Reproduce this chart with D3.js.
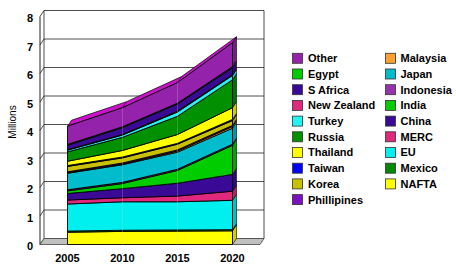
<!DOCTYPE html>
<html><head><meta charset="utf-8">
<script src="https://cdn.jsdelivr.net/npm/d3@7"></script>
<style>body{margin:0;background:#fff}svg{display:block}</style>
</head><body>
<script>
// ---- data ----
const years = ["2005", "2010", "2015", "2020"];
const yTicks = [0, 1, 2, 3, 4, 5, 6, 7, 8];
// series, bottom of stack first (values in millions)
const NAFTA       = [0.43, 0.46, 0.47, 0.48];
const Mexico      = [0.04, 0.04, 0.04, 0.04];
const EU          = [0.95, 1.00, 0.99, 1.03];
const MERC        = [0.14, 0.14, 0.20, 0.32];
const China       = [0.23, 0.32, 0.45, 0.59];
const India       = [0.09, 0.18, 0.45, 1.02];
const Indonesia   = [0.04, 0.04, 0.04, 0.04];
const Japan       = [0.58, 0.62, 0.60, 0.56];
const Malaysia    = [0.02, 0.02, 0.04, 0.06];
const Phillipines = [0.03, 0.04, 0.04, 0.04];
const Korea       = [0.19, 0.18, 0.20, 0.17];
const Taiwan      = [0.03, 0.03, 0.03, 0.04];
const Thailand    = [0.15, 0.23, 0.31, 0.41];
const Russia      = [0.33, 0.46, 0.64, 0.98];
const Turkey      = [0.06, 0.08, 0.15, 0.15];
const NewZealand  = [0.02, 0.02, 0.03, 0.03];
const SAfrica     = [0.15, 0.24, 0.25, 0.24];
const Egypt       = [0.03, 0.03, 0.03, 0.04];
const Other       = [0.64, 0.67, 0.72, 0.84];

const seriesNames = ["NAFTA","Mexico","EU","MERC","China","India","Indonesia","Japan","Malaysia","Phillipines","Korea","Taiwan","Thailand","Russia","Turkey","New Zealand","S Africa","Egypt","Other"];
const seriesValues = [NAFTA,Mexico,EU,MERC,China,India,Indonesia,Japan,Malaysia,Phillipines,Korea,Taiwan,Thailand,Russia,Turkey,NewZealand,SAfrica,Egypt,Other];
const seriesColors = ["#FFFF00","#008A00","#00F0F0","#E0287C","#3A0A96","#00CC00","#9930B0","#00BCCC","#FFA030","#7A10C0","#C8C000","#0000FF","#FFFF00","#009000","#22F4F4","#E0287C","#3A0A96","#00CC00","#9422AA"];
const legendCol1 = ["Other","Egypt","S Africa","New Zealand","Turkey","Russia","Thailand","Taiwan","Korea","Phillipines"];
const legendCol2 = ["Malaysia","Japan","Indonesia","India","China","MERC","EU","Mexico","NAFTA"];

// ---- layout ----
const W = 456, H = 266;
const svg = d3.select("body").append("svg").attr("width", W).attr("height", H);
const font = "'Liberation Sans', Arial, sans-serif";
const dx = 4, dy = 6;
const x0 = 40, x1 = 260;
const y = d3.scaleLinear().domain([0, 8]).range([244.5, 16.5]);
const x = d3.scaleBand().domain(years).range([x0, x1]);
const cx = d => x(d) + x.bandwidth() / 2;

// back wall gridlines + left wall
const g = svg.append("g");
yTicks.forEach(t => {
  g.append("line").attr("x1", x0 + dx).attr("x2", x1 + dx)
    .attr("y1", y(t) - dy).attr("y2", y(t) - dy)
    .attr("stroke", t === 0 ? "#555" : "#222").attr("stroke-width", 0.8);
  g.append("line").attr("x1", x0).attr("x2", x0 + dx)
    .attr("y1", y(t)).attr("y2", y(t) - dy)
    .attr("stroke", "#222").attr("stroke-width", 0.8);
});
g.append("line").attr("x1", x0).attr("x2", x0).attr("y1", y(0)).attr("y2", y(8)).attr("stroke", "#222").attr("stroke-width", 1);
g.append("line").attr("x1", x0 + dx).attr("x2", x0 + dx).attr("y1", y(0) - dy).attr("y2", y(8) - dy).attr("stroke", "#222").attr("stroke-width", 0.8);
g.append("line").attr("x1", x1 + dx).attr("x2", x1 + dx).attr("y1", y(0) - dy).attr("y2", y(8) - dy).attr("stroke", "#222").attr("stroke-width", 0.8);

// floor
g.append("polygon")
  .attr("points", [[x0, y(0)], [x1, y(0)], [x1 + dx, y(0) - dy], [x0 + dx, y(0) - dy]].map(p => p.join(",")).join(" "))
  .attr("fill", "#C0C0C0").attr("stroke", "#444").attr("stroke-width", 0.8);

// stacked data
const table = years.map((yr, i) => {
  const row = { year: yr };
  seriesNames.forEach((n, k) => row[n] = seriesValues[k][i]);
  return row;
});
const stacked = d3.stack().keys(seriesNames)(table);

const area = d3.area().x(d => cx(d.data.year)).y0(d => y(d[0])).y1(d => y(d[1]));
const last = years.length - 1;
const xr = cx(years[last]);

// right side faces
stacked.forEach((s, k) => {
  const d = s[last];
  const c = d3.color(seriesColors[k]).darker(0.6);
  g.append("polygon")
    .attr("points", [[xr, y(d[0])], [xr, y(d[1])], [xr + dx, y(d[1]) - dy], [xr + dx, y(d[0]) - dy]].map(p => p.join(",")).join(" "))
    .attr("fill", c).attr("stroke", "#000").attr("stroke-width", 0.6);
});

// top face of topmost series
const topSeries = stacked[stacked.length - 1];
const topPts = topSeries.map(d => [cx(d.data.year), y(d[1])]);
const topFace = topPts.concat(topPts.slice().reverse().map(p => [p[0] + dx, p[1] - dy]));
g.append("polygon").attr("points", topFace.map(p => p.join(",")).join(" "))
  .attr("fill", "#CC10CC").attr("stroke", "#000").attr("stroke-width", 0.7);
topPts.slice(1, last).forEach(p => {
  g.append("line").attr("x1", p[0]).attr("y1", p[1]).attr("x2", p[0] + dx).attr("y2", p[1] - dy)
    .attr("stroke", "#000").attr("stroke-width", 0.5);
});

// front faces
stacked.forEach((s, k) => {
  g.append("path").attr("d", area(s)).attr("fill", seriesColors[k])
    .attr("stroke", "#000").attr("stroke-width", 0.9).attr("stroke-linejoin", "round");
});

// faint segment lines
years.slice(1, last).forEach((yr, i) => {
  g.append("line").attr("x1", cx(yr)).attr("x2", cx(yr))
    .attr("y1", y(0)).attr("y2", y(topSeries[i + 1][1]))
    .attr("stroke", "#c8d8d8").attr("stroke-opacity", 0.3).attr("stroke-width", 0.8);
});

// y tick labels
yTicks.forEach(t => {
  svg.append("text").attr("x", 33).attr("y", y(t) + 2).attr("dy", "0.35em")
    .attr("text-anchor", "end").attr("font-family", font).attr("font-size", 11)
    .attr("font-weight", "bold").text(t);
});
// x labels
years.forEach(yr => {
  svg.append("text").attr("x", cx(yr)).attr("y", 262).attr("text-anchor", "middle")
    .attr("font-family", font).attr("font-size", 11).attr("font-weight", "bold").text(yr);
});
// axis title
svg.append("text").attr("transform", "translate(16,122) rotate(-90)")
  .attr("text-anchor", "middle").attr("font-family", font).attr("font-size", 10).text("Millions");

// legend
const colorOf = n => seriesColors[seriesNames.indexOf(n)];
function legendCol(names, xs, xt) {
  names.forEach((n, i) => {
    const cy = 58.3 + i * 15.7;
    svg.append("rect").attr("x", xs).attr("y", cy - 5).attr("width", 10).attr("height", 10)
      .attr("fill", colorOf(n)).attr("stroke", "#333").attr("stroke-width", 0.8);
    svg.append("text").attr("x", xt).attr("y", cy).attr("dy", "0.36em")
      .attr("font-family", font).attr("font-size", 11).attr("font-weight", "bold").text(n);
  });
}
legendCol(legendCol1, 292.5, 308);
legendCol(legendCol2, 385.5, 400.5);
</script>
</body></html>
